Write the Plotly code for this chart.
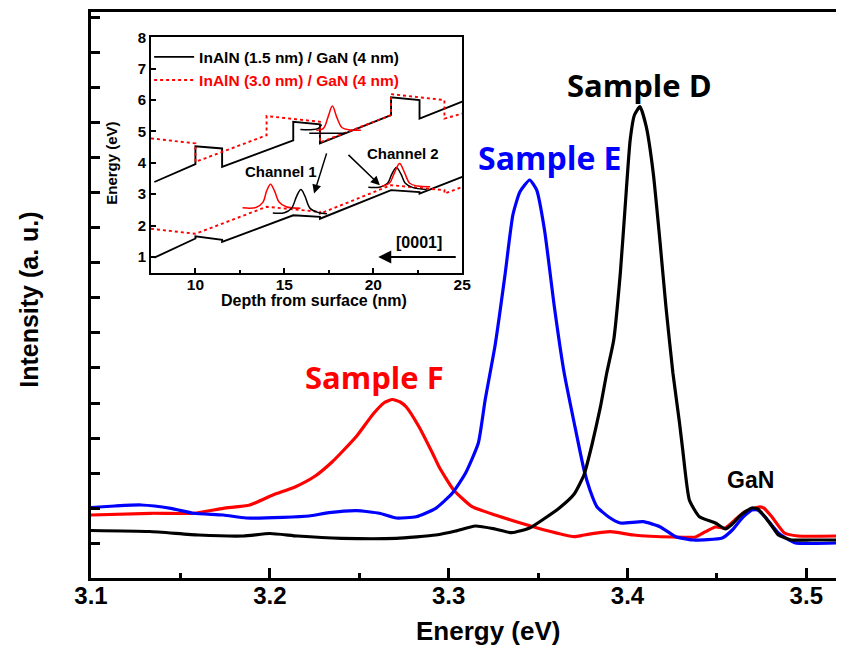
import plotly.graph_objects as go

# ---------------- main PL spectra (energy in eV, intensity in a.u.) ----------------
energy_D = [3.1000, 3.1326, 3.1602, 3.1851, 3.2000, 3.2155, 3.2403, 3.2707, 3.2928, 3.3039,
            3.3149, 3.3260, 3.3352, 3.3453, 3.3536, 3.3619, 3.3702, 3.3757, 3.3801, 3.3849,
            3.3884, 3.3923, 3.3960, 3.3987, 3.4015, 3.4039, 3.4070, 3.4105, 3.4144, 3.4181,
            3.4215, 3.4254, 3.4291, 3.4309, 3.4346, 3.4402, 3.4492, 3.4547, 3.4586, 3.4641,
            3.4696, 3.4729, 3.4768, 3.4807, 3.4844, 3.4917, 3.5028, 3.5166]
intensity_D = [1.357, 1.329, 1.229, 1.200, 1.271, 1.200, 1.134, 1.134, 1.229, 1.343,
               1.486, 1.400, 1.294, 1.429, 1.700, 2.000, 2.400, 2.950, 3.800, 4.894,
               5.857, 6.800, 8.714, 10.609, 12.514, 13.229, 13.466, 12.894, 11.571, 9.657,
               7.751, 5.857, 4.429, 3.657, 2.229, 1.751, 1.571, 1.400, 1.543, 1.829,
               2.000, 1.971, 1.751, 1.486, 1.229, 1.086, 1.086, 1.086]

energy_E = [3.1000, 3.1133, 3.1280, 3.1446, 3.1575, 3.1740, 3.1867, 3.2072, 3.2219, 3.2330,
            3.2486, 3.2613, 3.2707, 3.2818, 3.2928, 3.3020, 3.3094, 3.3166, 3.3204, 3.3260,
            3.3315, 3.3359, 3.3398, 3.3453, 3.3492, 3.3536, 3.3591, 3.3646, 3.3702, 3.3757,
            3.3790, 3.3829, 3.3895, 3.3960, 3.4088, 3.4181, 3.4271, 3.4365, 3.4530, 3.4586,
            3.4641, 3.4696, 3.4729, 3.4768, 3.4844, 3.4934, 3.5166]
intensity_E = [2.014, 2.057, 2.086, 1.991, 1.849, 1.800, 1.714, 1.734, 1.771, 1.866,
               1.923, 1.849, 1.714, 1.751, 1.991, 2.420, 2.991, 3.857, 5.086, 6.657,
               8.657, 10.371, 11.029, 11.371, 11.086, 9.943, 7.751, 5.857, 4.429, 3.086,
               2.514, 2.037, 1.743, 1.571, 1.609, 1.466, 1.180, 1.086, 1.143, 1.371,
               1.714, 1.943, 1.943, 1.751, 1.286, 1.009, 1.000]

energy_F = [3.1000, 3.1335, 3.1575, 3.1740, 3.1888, 3.2017, 3.2144, 3.2254, 3.2348, 3.2403,
            3.2486, 3.2578, 3.2641, 3.2685, 3.2729, 3.2762, 3.2834, 3.2910, 3.2946, 3.3028,
            3.3131, 3.3260, 3.3407, 3.3536, 3.3702, 3.3757, 3.3904, 3.4033, 3.4254, 3.4381,
            3.4436, 3.4492, 3.4547, 3.4613, 3.4657, 3.4733, 3.4762, 3.4807, 3.4878, 3.4954,
            3.5166]
intensity_F = [1.800, 1.849, 1.849, 1.991, 2.086, 2.371, 2.609, 2.914, 3.314, 3.600,
               4.057, 4.686, 5.014, 5.100, 5.029, 4.894, 4.323, 3.563, 3.180, 2.514,
               2.037, 1.800, 1.563, 1.371, 1.180, 1.229, 1.323, 1.229, 1.171, 1.171,
               1.323, 1.457, 1.429, 1.714, 1.894, 2.029, 2.000, 1.751, 1.286, 1.200,
               1.200]

# ---------------- inset: band diagram (depth in nm, energy in eV) ----------------
band_15_x = [7.69, 10, 10, 11.5, 11.5, 15.5, 15.5, 17, 17, 21, 21, 22.6, 22.6, 25, None,
             7.69, 10, 10, 11.5, 11.5, 15.5, 17, 17, 21, 22.6, 22.6, 25]
band_15_y = [3.39, 3.96, 4.53, 4.46, 3.87, 4.72, 5.31, 5.23, 4.62, 5.52, 6.09, 6.00, 5.41, 5.95, None,
             0.98, 1.59, 1.66, 1.55, 1.48, 2.33, 2.28, 2.22, 3.13, 3.07, 3.02, 3.55]
band_30_x = [7.5, 10, 10, 14, 14, 17, 17, 21, 21, 24, 24, 25, None,
             7.5, 10, 14, 17, 17, 21, 24, 24, 25]
band_30_y = [4.78, 4.62, 4.03, 4.88, 5.49, 5.31, 4.65, 5.52, 6.19, 6.00, 5.41, 5.57, None,
             1.90, 1.74, 2.60, 2.44, 2.38, 3.29, 3.13, 3.02, 3.23]

wf_red_up_x = [16.8, 17.2, 17.45, 17.7, 17.95, 18.25, 18.7, 19.3]
wf_red_up_y = [5.04, 5.10, 5.45, 5.81, 5.45, 5.12, 5.05, 5.04]
wf_blk_up_x = [15.9, 16.6, 16.9, 17.1, None, 16.4, 18.5]
wf_blk_up_y = [5.06, 5.06, 5.10, 5.22, None, 4.94, 4.94]
wf_red_c1_x = [12.65, 13.4, 13.8, 14.0, 14.22, 14.45, 14.7, 15.1, 15.9]
wf_red_c1_y = [2.57, 2.58, 2.75, 3.10, 3.32, 3.10, 2.75, 2.60, 2.55]
wf_blk_c1_x = [14.35, 15.0, 15.4, 15.7, 15.93, 16.15, 16.45, 16.9, 17.4]
wf_blk_c1_y = [2.40, 2.41, 2.55, 2.95, 3.15, 2.95, 2.55, 2.42, 2.38]
wf_blk_c2_x = [19.72, 20.4, 20.8, 21.05, 21.3, 21.55, 21.8, 22.2, 23.0]
wf_blk_c2_y = [3.22, 3.23, 3.35, 3.65, 3.85, 3.65, 3.35, 3.22, 3.15]
wf_red_c2_x = [20.5, 20.9, 21.2, 21.48, 21.75, 22.05, 22.5, 23.2]
wf_red_c2_y = [3.26, 3.35, 3.70, 3.98, 3.70, 3.35, 3.26, 3.24]

sample_labels = ["Sample D", "Sample E", "Sample F"]
label_pos_E = [3.4068, 3.3565, 3.2586]
label_pos_I = [14.09, 12.0, 5.74]
colors = ["#000000", "#0000FF", "#FF0000"]

BLACK, BLUE, RED = colors
ARIAL = "Liberation Sans"

fig = go.Figure()

# main spectra
for ex, iy, c in [(energy_F, intensity_F, RED), (energy_E, intensity_E, BLUE),
                  (energy_D, intensity_D, BLACK)]:
    fig.add_trace(go.Scatter(x=ex, y=iy, mode="lines",
                             line=dict(color=c, width=3.2, shape="spline", smoothing=0.5),
                             showlegend=False, hoverinfo="skip"))

# inset bands
fig.add_trace(go.Scatter(x=band_15_x, y=band_15_y, xaxis="x2", yaxis="y2", mode="lines",
                         line=dict(color=BLACK, width=1.9), name="InAlN (1.5 nm) / GaN (4 nm)",
                         connectgaps=False))
fig.add_trace(go.Scatter(x=band_30_x, y=band_30_y, xaxis="x2", yaxis="y2", mode="lines",
                         line=dict(color=RED, width=1.9, dash="dot"),
                         name="<span style='color:#FF0000'>InAlN (3.0 nm) / GaN (4 nm)</span>",
                         connectgaps=False))
for wx, wy, c in [(wf_red_up_x, wf_red_up_y, RED), (wf_blk_up_x, wf_blk_up_y, BLACK),
                  (wf_red_c1_x, wf_red_c1_y, RED), (wf_blk_c1_x, wf_blk_c1_y, BLACK),
                  (wf_blk_c2_x, wf_blk_c2_y, BLACK), (wf_red_c2_x, wf_red_c2_y, RED)]:
    fig.add_trace(go.Scatter(x=wx, y=wy, xaxis="x2", yaxis="y2", mode="lines",
                             line=dict(color=c, width=1.5, shape="spline"), showlegend=False,
                             connectgaps=False, hoverinfo="skip"))

annotations = []
sample_fonts = [dict(family="Open Sans", size=s, color=c, weight=700) for c, s in zip(colors, [31, 32, 31])]
for t, ex, iy, f in zip(sample_labels, label_pos_E, label_pos_I, sample_fonts):
    annotations.append(dict(x=ex, y=iy, xref="x", yref="y", text=t, showarrow=False, font=f,
                            xanchor="center", yanchor="middle"))
annotations.append(dict(x=3.469, y=2.8, xref="x", yref="y", text="GaN", showarrow=False,
                        xanchor="center", yanchor="middle",
                        font=dict(family=ARIAL, size=23, color=BLACK, weight=700)))

# axis titles
annotations.append(dict(x=0.533, y=-0.093, xref="paper", yref="paper", text="Energy (eV)",
                        xanchor="center", yanchor="middle",
                        showarrow=False, font=dict(family=ARIAL, size=26, color=BLACK, weight=700)))
annotations.append(dict(x=-0.0836, y=0.491, xref="paper", yref="paper", text="Intensity (a. u.)",
                        textangle=-90, showarrow=False, xanchor="center", yanchor="middle",
                        font=dict(family=ARIAL, size=25, color=BLACK, weight=700)))
annotations.append(dict(x=0.2993, y=0.4895, xref="paper", yref="paper", text="Depth from surface (nm)",
                        showarrow=False, xanchor="center", yanchor="middle",
                        font=dict(family=ARIAL, size=16, color=BLACK, weight=700)))
annotations.append(dict(x=0.0275, y=0.7327, xref="paper", yref="paper", text="Energy (eV)",
                        textangle=-90, showarrow=False, xanchor="center", yanchor="middle",
                        font=dict(family=ARIAL, size=15, color=BLACK, weight=700)))

# inset labels / arrows
annotations.append(dict(x=14.81, y=3.71, xref="x2", yref="y2", text="Channel 1", showarrow=False,
                        xanchor="center", yanchor="middle",
                        font=dict(family=ARIAL, size=15, color=BLACK, weight=700)))
annotations.append(dict(x=21.67, y=4.30, xref="x2", yref="y2", text="Channel 2", showarrow=False,
                        xanchor="center", yanchor="middle",
                        font=dict(family=ARIAL, size=15, color=BLACK, weight=700)))
annotations.append(dict(x=22.59, y=1.45, xref="x2", yref="y2", text="[0001]", showarrow=False,
                        xanchor="center", yanchor="middle",
                        font=dict(family=ARIAL, size=16, color=BLACK, weight=700)))
annotations.append(dict(x=16.67, y=3.02, ax=17.4, ay=4.35, xref="x2", yref="y2", axref="x2", ayref="y2",
                        text="", showarrow=True, arrowhead=2, arrowsize=1.2, arrowwidth=1.5, arrowcolor=BLACK))
annotations.append(dict(x=20.37, y=3.29, ax=18.52, ay=4.30, xref="x2", yref="y2", axref="x2", ayref="y2",
                        text="", showarrow=True, arrowhead=2, arrowsize=1.2, arrowwidth=1.5, arrowcolor=BLACK))
annotations.append(dict(x=20.28, y=1.0, ax=24.72, ay=1.0, xref="x2", yref="y2", axref="x2", ayref="y2",
                        text="", showarrow=True, arrowhead=2, arrowsize=1.3, arrowwidth=2, arrowcolor=BLACK))

fig.update_layout(
    width=845, height=646,
    margin=dict(l=91, r=0, t=12, b=68),
    paper_bgcolor="white", plot_bgcolor="white",
    annotations=annotations,
    showlegend=True,
    legend=dict(x=0.078, y=0.95, xanchor="left", yanchor="top", bgcolor="rgba(0,0,0,0)",
                font=dict(family=ARIAL, size=15.5, color=BLACK, weight=700),
                tracegroupgap=0, itemwidth=40),
    xaxis=dict(range=[3.1, 3.5166], showline=True, linewidth=3, linecolor=BLACK, mirror=True,
               ticks="inside", ticklen=10, tickwidth=2.5, tickcolor=BLACK, dtick=0.1, tick0=3.1,
               tickformat=".1f", showgrid=False, zeroline=False, ticklabelstandoff=-6,
               minor=dict(dtick=0.05, ticks="inside", ticklen=5, tickwidth=2.5, tickcolor=BLACK, showgrid=False),
               tickfont=dict(family=ARIAL, size=24, color=BLACK, weight=700)),
    yaxis=dict(range=[0, 16.171], showline=True, linewidth=3, linecolor=BLACK, mirror=False,
               ticks="inside", ticklen=9, tickwidth=2.5, tickcolor=BLACK, dtick=1, tick0=0,
               showticklabels=False, showgrid=False, zeroline=False),
    xaxis2=dict(domain=[0.0805, 0.4983], anchor="y2", range=[7.5, 25.001], showline=True, linewidth=1.8,
                linecolor=BLACK, mirror=True, ticks="inside", ticklen=5, tickwidth=1.5, tickcolor=BLACK,
                tickvals=[10, 15, 20, 25], showgrid=False, zeroline=False, ticklabelstandoff=-3,
                minor=dict(tickvals=[12.5, 17.5, 22.5], ticks="inside", ticklen=3, tickwidth=1.5, tickcolor=BLACK),
                tickfont=dict(family=ARIAL, size=15.5, color=BLACK, weight=700)),
    yaxis2=dict(domain=[0.5394, 0.9553], anchor="x2", range=[0.5, 8.001], showline=True, linewidth=1.8,
                linecolor=BLACK, mirror=True, ticks="inside", ticklen=5, tickwidth=1.5, tickcolor=BLACK,
                dtick=1, tick0=1, showgrid=False, zeroline=False,
                tickfont=dict(family=ARIAL, size=15, color=BLACK, weight=700)),
)

fig.write_html("out.html", config={"displayModeBar": False},
               post_script="document.body.style.margin='0';")
